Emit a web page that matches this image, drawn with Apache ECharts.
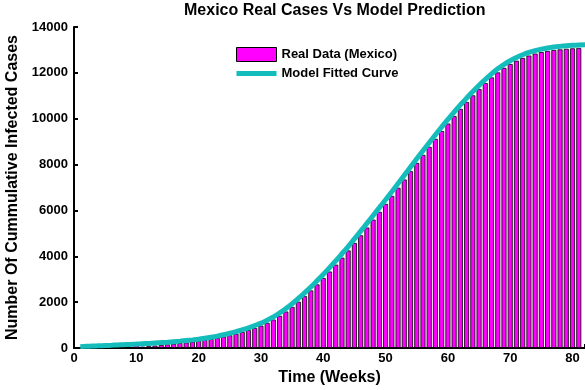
<!DOCTYPE html>
<html>
<head>
<meta charset="utf-8">
<script src="https://cdn.jsdelivr.net/npm/echarts@6/dist/echarts.min.js"></script>
<style>html,body{margin:0;padding:0;background:#fff;}#c{width:585px;height:390px;}</style>
</head>
<body>
<div id="c"></div>
<script>
var weeks = [1,2,3,4,5,6,7,8,9,10,11,12,13,14,15,16,17,18,19,20,21,22,23,24,25,26,27,28,29,30,31,32,33,34,35,36,37,38,39,40,41,42,43,44,45,46,47,48,49,50,51,52,53,54,55,56,57,58,59,60,61,62,63,64,65,66,67,68,69,70,71,72,73,74,75,76,77,78,79,80,81,82];
var realCases = [10,12,15,18,22,26,30,36,42,230,60,80,105,130,158,185,215,245,278,312,350,392,440,495,555,622,698,780,872,975,1095,1240,1405,1590,1795,2020,2260,2510,2775,3050,3335,3635,3940,4255,4580,4915,5255,5600,5940,6285,6635,6990,7350,7710,8070,8425,8775,9120,9460,9790,10115,10430,10730,11020,11295,11555,11800,12020,12215,12385,12530,12650,12755,12840,12905,12955,12995,13025,13050,13070,13085];
var modelCurve = [60,72,84,96,108,120,133,146,158,170,185,200,217,235,255,277,300,326,354,385,425,470,520,578,642,714,793,880,976,1083,1210,1360,1530,1720,1930,2160,2405,2660,2930,3210,3500,3800,4110,4425,4760,5095,5435,5780,6120,6465,6815,7170,7530,7890,8250,8605,8955,9300,9640,9970,10290,10600,10900,11185,11455,11710,11955,12175,12365,12530,12670,12790,12890,12970,13035,13085,13125,13155,13180,13200,13215,13225];
var xTicks = [0,10,20,30,40,50,60,70,80];
var yTicks = [0,2000,4000,6000,8000,10000,12000,14000];

var barData = realCases.map(function(v,i){return [weeks[i], v];});
var lineData = modelCurve.map(function(v,i){return [weeks[i], v];});
var FONT = 'Liberation Sans, Arial, Helvetica, sans-serif';
var CYAN = '#14bcbc';
var chart = echarts.init(document.getElementById('c'), null, {renderer:'canvas'});
chart.setOption({
  backgroundColor:'#ffffff',
  animation:false,
  title:{text:'Mexico Real Cases Vs Model Prediction', left:184, top:3, padding:0,
    textStyle:{fontFamily:FONT, fontWeight:'bold', fontSize:16, color:'#000'}},
  legend:{orient:'vertical', left:236, top:47, padding:0, itemWidth:40, itemHeight:14, itemGap:5,
    symbolKeepAspect:true,
    textStyle:{fontFamily:FONT, fontWeight:'bold', fontSize:13, color:'#000'},
    data:[
      {name:'Real Data (Mexico)', icon:'rect', itemStyle:{color:'#ff00ff', borderColor:'#000', borderWidth:1}},
      {name:'Model Fitted Curve', icon:'path://M0,0L40,0L40,5L0,5Z', itemStyle:{color:CYAN, borderWidth:0}}
    ]},
  grid:{left:74, right:0, top:27, bottom:42, containLabel:false, outerBoundsMode:'none'},
  xAxis:{type:'value', min:0, max:82, interval:10,
    name:'Time (Weeks)', nameLocation:'middle', nameGap:20,
    nameTextStyle:{fontFamily:FONT, fontWeight:'bold', fontSize:16, color:'#000'},
    axisLine:{show:true, lineStyle:{color:'#000', width:2}},
    axisTick:{show:true, inside:true, length:4, lineStyle:{color:'#000', width:2}},
    axisLabel:{fontFamily:FONT, fontWeight:'bold', fontSize:13, color:'#000', margin:4,
      formatter:function(v){return xTicks.indexOf(v)>=0 ? String(v) : '';}},
    splitLine:{show:false}},
  yAxis:{type:'value', min:0, max:14000, interval:2000,
    name:'Number Of Cummulative Infected Cases', nameLocation:'middle', nameGap:44,
    nameTextStyle:{fontFamily:FONT, fontWeight:'bold', fontSize:16, color:'#000'},
    axisLine:{show:true, lineStyle:{color:'#000', width:2}},
    axisTick:{show:true, inside:true, length:4, lineStyle:{color:'#000', width:2}},
    axisLabel:{fontFamily:FONT, fontWeight:'bold', fontSize:13, color:'#000', margin:6,
      formatter:function(v){return yTicks.indexOf(v)>=0 ? String(v) : '';}},
    splitLine:{show:false}},
  series:[
    {name:'Real Data (Mexico)', type:'bar', data:barData, barWidth:5,
      itemStyle:{color:'#ff00ff', borderColor:'#000', borderWidth:0.8}, z:2},
    {name:'Model Fitted Curve', type:'line', data:lineData, smooth:true, symbol:'none',
      lineStyle:{color:CYAN, width:5}, itemStyle:{color:CYAN}, z:3}
  ]
});
</script>
</body>
</html>
